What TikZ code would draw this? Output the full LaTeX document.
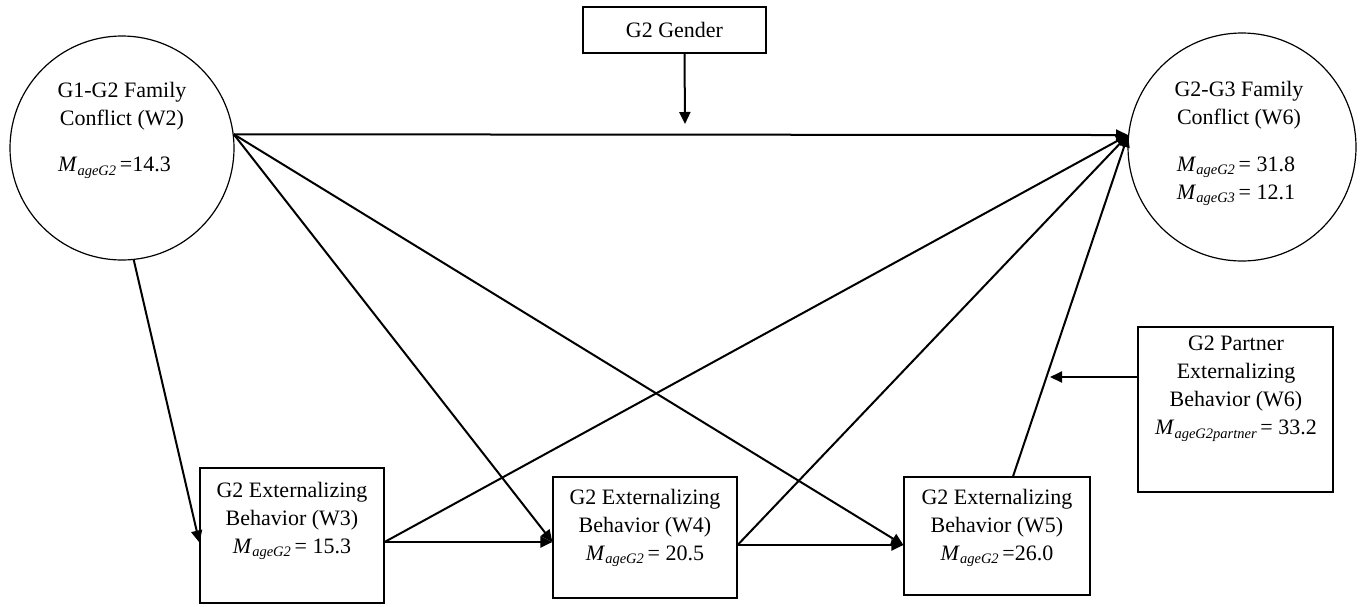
\documentclass[tikz,border=0pt]{standalone}
\usepackage{fontspec}
\setmainfont{Liberation Serif}
\usetikzlibrary{arrows.meta}
\newcommand{\Mage}[1]{\textit{M}\raisebox{-0.35ex}{\fontsize{14.5}{14.5}\selectfont\textit{#1}}}
\begin{document}
\begin{tikzpicture}[x=1pt,y=-1pt,
  every node/.style={font=\fontsize{22}{28}\selectfont, inner sep=0pt},
  shape box/.style={draw, line width=1.2pt, rectangle},
  circ/.style={draw, line width=1.2pt, circle},
  txt/.style={align=center},
  arr/.style={line width=2pt, -{Triangle[length=12pt,width=11pt]}}]
\useasboundingbox (0,0) rectangle (1360,606);
% shapes
\node[circ, minimum size=224pt] (c1) at (122,148) {};
\node[circ, minimum size=228pt] (c2) at (1242,147) {};
\node[shape box, minimum width=183pt, minimum height=46pt] (gen) at (674.5,30) {G2 Gender};
\node[shape box, minimum width=195pt, minimum height=165pt] (par) at (1235.5,409.5) {};
\node[shape box, minimum width=184pt, minimum height=135pt] (w3) at (292,535.5) {};
\node[shape box, minimum width=184pt, minimum height=121pt] (w4) at (645,537.5) {};
\node[shape box, minimum width=186pt, minimum height=118pt] (w5) at (997,536) {};
% texts
\node[txt] (t1a) at (122,106) {G1-G2 Family\\Conflict (W2)};
\node[anchor=west] (t1b) at (58,168) {\Mage{ageG2}\,=14.3};
\node[txt] (t2a) at (1239,105) {G2-G3 Family\\Conflict (W6)};
\node[txt] (t2b) at (1236,181) {\Mage{ageG2}\,= 31.8\\\Mage{ageG3}\,= 12.1};
\node[txt] (tp) at (1236,389) {G2 Partner\\Externalizing\\Behavior (W6)\\\Mage{ageG2partner}\,= 33.2};
\node[txt] (t3) at (292,521) {G2 Externalizing\\Behavior (W3)\\\Mage{ageG2}\,= 15.3};
\node[txt] (t4) at (645,528) {G2 Externalizing\\Behavior (W4)\\\Mage{ageG2}\,= 20.5};
\node[txt] (t5) at (997,528) {G2 Externalizing\\Behavior (W5)\\\Mage{ageG2}\,=26.0};
% free ends
\coordinate (gtip) at (685,124);
\coordinate (ptip) at (1050,377);
% connectors
\draw[arr] ([xshift=10pt]gen.south) -- (gtip);
\draw[arr] (c1.7) -- (c2.174);
\draw[arr] (c1.-84) -- ([yshift=-7pt]w3.west);
\draw[arr] (c1.7) -- ([yshift=-6.5pt]w3.east -| w4.west);
\draw[arr] (c1.7) -- ([yshift=-7.5pt]w4.east -| w5.west);
\draw[arr] ([yshift=-6.5pt]w3.east) -- ([yshift=-6.5pt]w3.east -| w4.west);
\draw[arr] ([yshift=-6.5pt]w3.east) -- (c2.174);
\draw[arr] ([yshift=-7.5pt]w4.east) -- ([yshift=-7.5pt]w4.east -| w5.west);
\draw[arr] ([yshift=-7.5pt]w4.east) -- (c2.174);
\draw[arr] ([xshift=16pt]w5.north) -- (c2.174);
\draw[arr] ([yshift=32.5pt]par.west) -- (ptip);
\end{tikzpicture}
\end{document}
